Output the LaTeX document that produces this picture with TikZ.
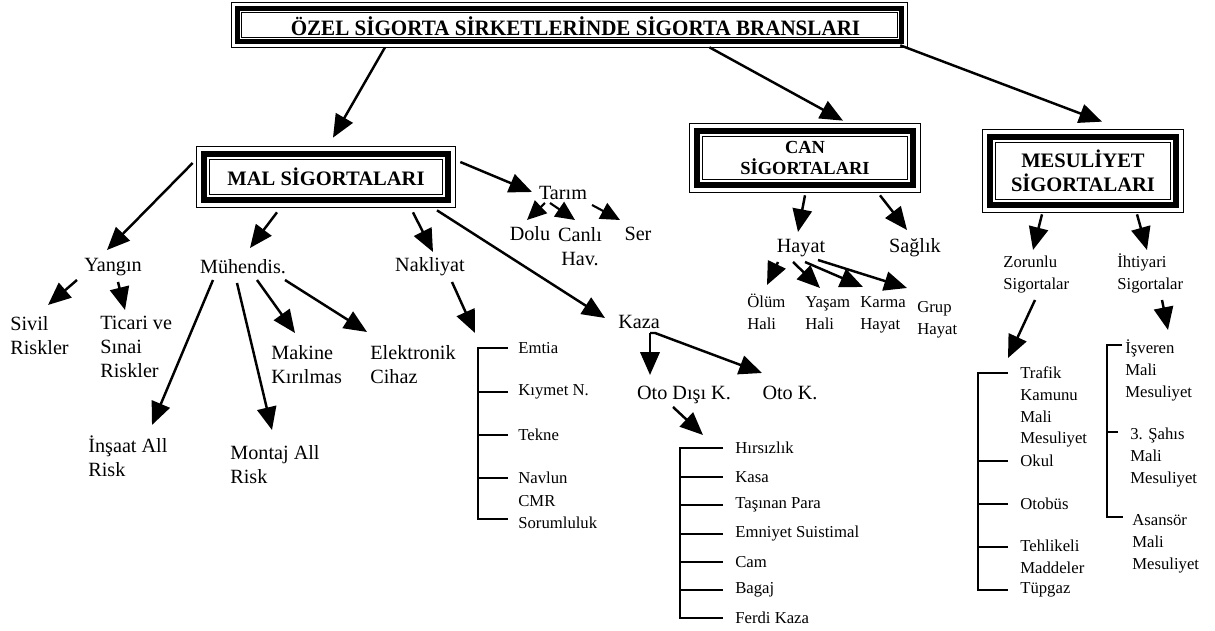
\documentclass[tikz,border=0pt]{standalone}
\usepackage{fontspec}
\setmainfont{Liberation Serif}
\usetikzlibrary{arrows.meta,calc}

% three-line frame: thin outer line, thick band, thin inner line
% #1 node, #2 inset of the thick band, #3 its width, #4 inset of the inner line
\newcommand\tribox[4]{%
  \draw[line width=0.5pt] (#1.north west) rectangle (#1.south east);
  \draw[line width=#3] ([shift={(#2,#2)}]#1.north west) rectangle ([shift={(-#2,-#2)}]#1.south east);
  \draw[line width=0.5pt] ([shift={(#4,#4)}]#1.north west) rectangle ([shift={(-#4,-#4)}]#1.south east);
}

\begin{document}
\begin{tikzpicture}[x=0.02cm,y=-0.02cm,
  lab/.style={inner sep=0pt, align=left, font=\fontsize{11.5}{13.7}\selectfont},
  sml/.style={inner sep=0pt, align=left, font=\fontsize{9.5}{12.5}\selectfont},
  hd/.style={inner sep=0pt, align=center, font=\bfseries\fontsize{11.7}{13.5}\selectfont},
  arr/.style={line width=1.4pt, -{Triangle[length=13pt,width=11pt]}},
  sarr/.style={line width=1.2pt, -{Triangle[length=11pt,width=10pt]}},
  brk/.style={line width=1pt},
  thinbrk/.style={line width=0.6pt},
]
\fill[white] (0,0) rectangle (1215,631);
\useasboundingbox (0,0) rectangle (1215,631);

% ---------- framed headings ----------
\node[hd, minimum width=13.5cm, minimum height=0.88cm] (title) at (569.5,25) {};
\node[hd, font=\bfseries\fontsize{12.5}{14}\selectfont] (titletext) at ([shift={(6,1)}]title.center)
  {\scalebox{0.96}[1]{ÖZEL SİGORTA SİRKETLERİNDE SİGORTA BRANSLARI}};
\node[hd, minimum width=5.16cm, minimum height=1.2cm] (mal) at (326,177) {MAL SİGORTALARI};
\node[hd, font=\bfseries\fontsize{10.5}{12}\selectfont, minimum width=4.6cm, minimum height=1.36cm] (can) at (805,158) {CAN\\SİGORTALARI};
\node[hd, minimum width=4cm, minimum height=1.64cm] (mes) at (1083,171) {MESULİYET\\SİGORTALARI};
\tribox{title}{5.5}{2.8pt}{9.5}
\tribox{mal}{7}{3.4pt}{13}
\tribox{can}{7}{3.4pt}{13}
\tribox{mes}{7}{3.4pt}{13}

\draw[arr] ([shift={(-184.5,0)}]title.south) -- ([shift={(7,-9)}]mal.north);
\draw[arr] ([shift={(140,0)}]title.south) -- ([shift={(38,-3)}]can.north);
\draw[arr] ([shift={(-7,-2)}]title.south east) -- ([shift={(19,-8)}]mes.north);

% ---------- MAL SİGORTALARI ----------
\node[lab] (yangin) at (113,267) {Yangın};
\node[lab] (muh) at (243,267) {Mühendis.};
\node[lab] (nak) at (430,267) {Nakliyat};
\node[lab] (tarim) at (563,193) {Tarım};
\node[lab] (kaza) at (639,322) {Kaza};

\draw[arr] ([shift={(-4,-14)}]mal.west) -- ([shift={(-6,-17)}]yangin.center);
\draw[arr] ([shift={(-49,5)}]mal.south) -- ([shift={(7,-19)}]muh.center);
\draw[arr] ([shift={(87,5)}]mal.south) -- ([shift={(3,-15)}]nak.center);
\draw[arr] ([shift={(111,3)}]mal.south) -- ([shift={(-34,-4)}]kaza.center);
\draw[arr] ([shift={(5,-15)}]mal.east) -- ([shift={(-31,-1)}]tarim.center);

% Tarım
\node[lab] (dolu) at (530,234) {Dolu};
\node[lab, align=center] (canli) at (580,246.5) {Canlı\\Hav.};
\node[lab] (ser) at (638,234) {Ser};
\draw[sarr] ([shift={(-18,10)}]tarim.center) -- ([shift={(-3,-14)}]dolu.center);
\draw[sarr] ([shift={(-13,10)}]tarim.center) -- ([shift={(-5,-26.5)}]canli.center);
\draw[sarr] ([shift={(29,12)}]tarim.center) -- ([shift={(-18,-14)}]ser.center);

% Yangın
\node[lab, anchor=north west] (sivil) at (10,316) {Sivil\\Riskler};
\node[lab, anchor=north west] (ticari) at (100,316) {Ticari ve\\Sınai\\Riskler};
\draw[arr] ([shift={(-36,13)}]yangin.center) -- ([shift={(38,-11)}]sivil.north west);
\draw[arr] ([shift={(5,15)}]yangin.center) -- ([shift={(25,-6)}]ticari.north west);

% Mühendis.
\node[lab, anchor=north west] (insaat) at (88,435) {İnşaat All\\Risk};
\node[lab, anchor=north west] (montaj) at (230,445) {Montaj All\\Risk};
\node[lab, anchor=north west] (makine) at (271,345) {Makine\\Kırılmas};
\node[lab, anchor=north west] (elek) at (370,345) {Elektronik\\Cihaz};
\draw[arr] ([shift={(-30,13)}]muh.center) -- ([shift={(64,-10)}]insaat.north west);
\draw[arr] ([shift={(-6,16)}]muh.center) -- ([shift={(42,-15)}]montaj.north west);
\draw[arr] ([shift={(14,13)}]muh.center) -- ([shift={(24,-12)}]makine.north west);
\draw[arr] ([shift={(42,13)}]muh.center) -- ([shift={(-3,-13)}]elek.north west);

% Nakliyat
\node[sml, anchor=west] (emtia) at (518,348) {Emtia};
\node[sml, anchor=west] (kiymet) at (518,392) {Kıymet N.};
\node[sml, anchor=west] (tekne) at (518,435) {Tekne};
\node[sml, anchor=west] (navlun) at (518,478) {Navlun};
\node[sml, anchor=west] (cmr) at (518,512) {CMR\\Sorumluluk};
\draw[arr] ([shift={(22,15)}]nak.center) -- ([shift={(-43,-15)}]emtia.west);
\draw[brk] ([shift={(-10,0)}]emtia.west) -- ++(-30,0) |- ([shift={(-10,7)}]cmr.west);
\foreach \n in {kiymet,tekne,navlun}
  \draw[brk] ([shift={(-10,0)}]\n.west) -- ++(-30,0);

% Kaza
\node[lab] (otodisi) at (684,395) {Oto Dışı K.};
\node[lab] (otok) at (790,393) {Oto K.};
\coordinate (kz) at ([shift={(11,11)}]kaza.center);
\draw[arr] (kz) -- ([shift={(-34,-20)}]otodisi.center);
\draw[arr] (kz) -- ++(5,0) -- ([shift={(-28,-20)}]otok.center);

\node[sml, anchor=west] (hirs) at (735,448) {Hırsızlık};
\node[sml, anchor=west] (kasa) at (735,477) {Kasa};
\node[sml, anchor=west] (tasinan) at (735,505) {Taşınan Para};
\node[sml, anchor=west] (emniyet) at (735,534) {Emniyet Suistimal};
\node[sml, anchor=west] (cam) at (735,562) {Cam};
\node[sml, anchor=west] (bagaj) at (735,590) {Bagaj};
\node[sml, anchor=west] (ferdi) at (735,618) {Ferdi Kaza};
\draw[arr] ([shift={(-11,12)}]otodisi.center) -- ([shift={(-32,-13)}]hirs.west);
\draw[brk] ([shift={(-12,0)}]hirs.west) -- ++(-43,0) |- ([shift={(-12,0)}]ferdi.west);
\foreach \n in {kasa,tasinan,emniyet,cam,bagaj}
  \draw[brk] ([shift={(-12,0)}]\n.west) -- ++(-43,0);

% ---------- CAN SİGORTALARI ----------
\node[lab] (hayat) at (801,248) {Hayat};
\node[lab] (saglik) at (915,248) {Sağlık};
\draw[arr] ([shift={(0,3)}]can.south) -- ([shift={(-3,-16)}]hayat.center);
\draw[arr] ([shift={(75,3)}]can.south) -- ([shift={(-8,-18)}]saglik.center);

\node[sml, anchor=north west] (olum) at (747,294) {Ölüm\\Hali};
\node[sml, anchor=north west] (yasam) at (805,296) {Yaşam\\Hali};
\node[sml, anchor=north west] (karma) at (860,296) {Karma\\Hayat};
\node[sml, anchor=north west] (grup) at (917,301) {Grup\\Hayat};
\draw[arr] ([shift={(-23,14)}]hayat.center) -- ([shift={(20,-9)}]olum.north west);
\draw[arr] ([shift={(-8,14)}]hayat.center) -- ([shift={(15,-8)}]yasam.north west);
\draw[arr] ([shift={(4,14)}]hayat.center) -- ([shift={(3,-9)}]karma.north west);
\draw[arr] ([shift={(17,12)}]hayat.center) -- ([shift={(-10,-13)}]grup.north west);

% ---------- MESULİYET SİGORTALARI ----------
\node[sml, anchor=north west] (zor) at (1003,256) {Zorunlu\\Sigortalar};
\node[sml, anchor=north west] (iht) at (1117,253) {İhtiyari\\Sigortalar};
\draw[arr] ([shift={(-41,2)}]mes.south) -- ([shift={(30,-6)}]zor.north west);
\draw[arr] ([shift={(54,2)}]mes.south) -- ([shift={(30,-3)}]iht.north west);

\node[sml, anchor=north west] (trafik) at (1020,366) {Trafik\\Kamunu\\Mali\\Mesuliyet};
\node[sml, anchor=west] (okul) at (1020,461) {Okul};
\node[sml, anchor=west] (otobus) at (1020,504) {Otobüs};
\node[sml, anchor=north west] (tehlikeli) at (1020,540) {Tehlikeli\\Maddeler};
\node[sml, anchor=west] (tupgaz) at (1020,590) {Tüpgaz};
\draw[arr] ([shift={(32,44)}]zor.north west) -- ([shift={(-12,-8)}]trafik.north west);
\draw[brk] ([shift={(-12,7)}]trafik.north west) -- ++(-30,0) |- ([shift={(-12,0)}]tupgaz.west);
\draw[brk] ([shift={(-12,0)}]okul.west) -- ++(-30,0);
\draw[brk] ([shift={(-12,0)}]otobus.west) -- ++(-30,0);
\draw[brk] ([shift={(-12,7)}]tehlikeli.north west) -- ++(-30,0);

\node[sml, anchor=north west] (isveren) at (1125,339) {İşveren\\Mali\\Mesuliyet};
\node[sml, anchor=north west] (sahis) at (1130,428) {3. Şahıs\\Mali\\Mesuliyet};
\node[sml, anchor=north west] (asansor) at (1132,514) {Asansör\\Mali\\Mesuliyet};
\draw[arr] ([shift={(45,47)}]iht.north west) -- ([shift={(43,-9)}]isveren.north west);
\draw[thinbrk] ([shift={(-3,6)}]isveren.north west) -- ++(-15,0) |- ([shift={(-9,3)}]asansor.north west);
\draw[thinbrk] ([shift={(-12,4)}]sahis.north west) -- ++(-11,0);

\end{tikzpicture}
\end{document}
